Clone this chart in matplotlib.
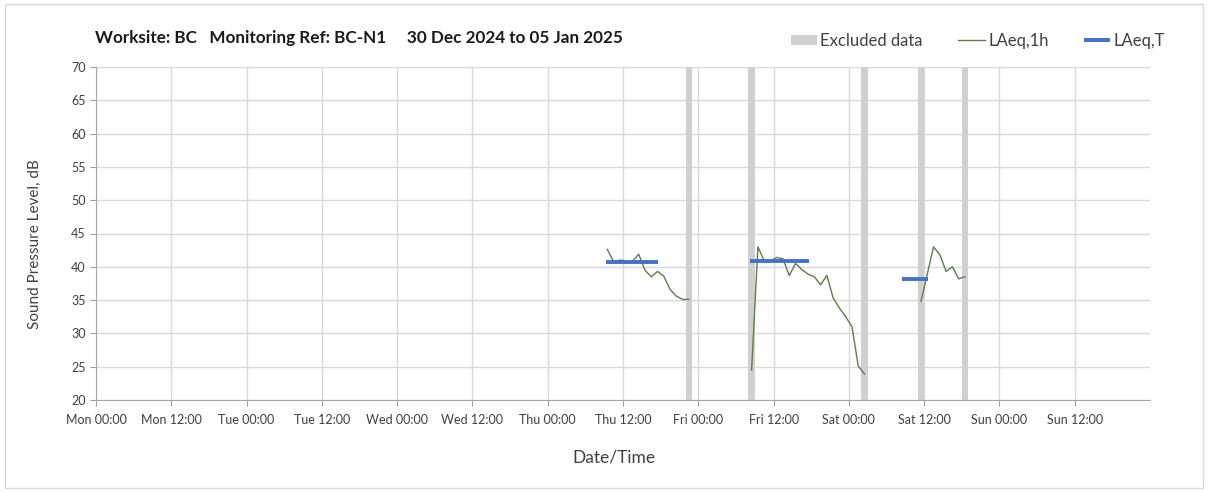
import numpy as np
import matplotlib.pyplot as plt
from matplotlib.patches import Rectangle

plt.rcParams['font.family'] = ['Lato', 'DejaVu Sans']

# hours from Mon 30 Dec 2024 00:00
tick_hours = list(range(0, 168, 12))
tick_labels = ['Mon 00:00', 'Mon 12:00', 'Tue 00:00', 'Tue 12:00', 'Wed 00:00', 'Wed 12:00',
               'Thu 00:00', 'Thu 12:00', 'Fri 00:00', 'Fri 12:00', 'Sat 00:00', 'Sat 12:00',
               'Sun 00:00', 'Sun 12:00']

# LAeq,1h runs
thu_t = [81.5, 82.5, 83.5, 84.5, 85.5, 86.5, 87.5, 88.5, 89.5, 90.5, 91.5, 92.5, 93.5, 94.5]
thu_db = [42.6, 40.8, 41.0, 40.9, 40.8, 41.9, 39.5, 38.5, 39.3, 38.6, 36.6, 35.6, 35.1, 35.1]
fri_t = [104.5, 105.5, 106.5, 107.5, 108.5, 109.5, 110.5, 111.5, 112.5, 113.5, 114.5, 115.5,
         116.5, 117.5, 118.5, 119.5, 120.5, 121.5, 122.5]
fri_db = [24.5, 43.0, 40.9, 40.9, 41.4, 41.2, 38.7, 40.5, 39.6, 38.9, 38.5, 37.3,
          38.7, 35.3, 33.8, 32.5, 31.0, 25.1, 23.9]
sat_t = [131.5, 132.5, 133.5, 134.5, 135.5, 136.5, 137.5, 138.5]
sat_db = [34.8, 38.9, 43.0, 41.8, 39.3, 40.0, 38.2, 38.5]

# LAeq,T periods: (start, end, level)
laeqt_start = [81.3, 104.3, 128.5]
laeqt_end = [89.5, 113.6, 132.6]
laeqt_db = [40.7, 40.8, 38.2]

# excluded hours (start hour)
excluded = [94, 104, 122, 131, 138]

fig = plt.figure(figsize=(12.08, 4.92), dpi=100)
ax = fig.add_axes([96 / 1208, 1 - 400 / 492, (1150 - 96) / 1208, (400 - 67) / 492])

for h in excluded:
    ax.axvspan(h, h + 1, color='#d0d0d0', lw=0, zorder=1)

green = '#5f7d4d'
ax.plot(thu_t, thu_db, color=green, lw=1, zorder=3)
ax.plot(fri_t, fri_db, color=green, lw=1, zorder=3, label='LAeq,1h')
ax.plot(sat_t, sat_db, color=green, lw=1, zorder=3)
for i in range(len(laeqt_db)):
    ax.plot([laeqt_start[i], laeqt_end[i]], [laeqt_db[i], laeqt_db[i]], color='#4472c4',
            lw=2.8, solid_capstyle='butt', zorder=4, label='LAeq,T' if i == 0 else None)

ax.set_xlim(0, 168)
ax.set_ylim(20, 70)
ax.set_xticks(tick_hours)
ax.set_xticklabels(tick_labels, fontsize=9, color='#404040')
ax.set_yticks(range(20, 71, 5))
ax.tick_params(axis='y', labelsize=9, colors='#404040', length=4, color='#a0a0a0')
ax.tick_params(axis='x', length=4, color='#a0a0a0', pad=6)
ax.grid(True, color='#d9d9d9', lw=1, zorder=0)
ax.set_axisbelow(True)
for s in ['top', 'right']:
    ax.spines[s].set_visible(False)
for s in ['left', 'bottom']:
    ax.spines[s].set_color('#a6a6a6')

ax.set_ylabel('Sound Pressure Level, dB', fontsize=11, color='#404040')
ax.yaxis.set_label_coords(-0.058, 0.468)
ax.set_xlabel('Date/Time', fontsize=12.5, color='#404040')
ax.xaxis.set_label_coords(0.491, -0.174)
ax.xaxis.label.set_va('center')
ax.yaxis.label.set_va('center')

fig.text(95 / 1208, 1 - 38 / 492, 'Worksite: BC   Monitoring Ref: BC-N1     30 Dec 2024 to 05 Jan 2025',
         fontsize=12.3, fontweight='bold', va='center', ha='left', color='#1a1a1a')

handles = [Rectangle((0, 0), 1, 1, color='#d0d0d0', lw=0)]
h2, l2 = ax.get_legend_handles_labels()
handles += h2
labels = ['Excluded data'] + l2
fig.legend(handles, labels, loc='center right', bbox_to_anchor=(1180 / 1208, 1 - 41 / 492),
           ncol=3, frameon=False, fontsize=12, handlelength=1.6, handleheight=0.6,
           columnspacing=2.1, handletextpad=0.2, labelcolor='#404040')

fig.patches.append(Rectangle((5 / 1208, 4 / 492), 1198 / 1208, 484 / 492, transform=fig.transFigure,
                             fill=False, edgecolor='#d9d9d9', lw=1))

fig.savefig('out.png', dpi=100)
